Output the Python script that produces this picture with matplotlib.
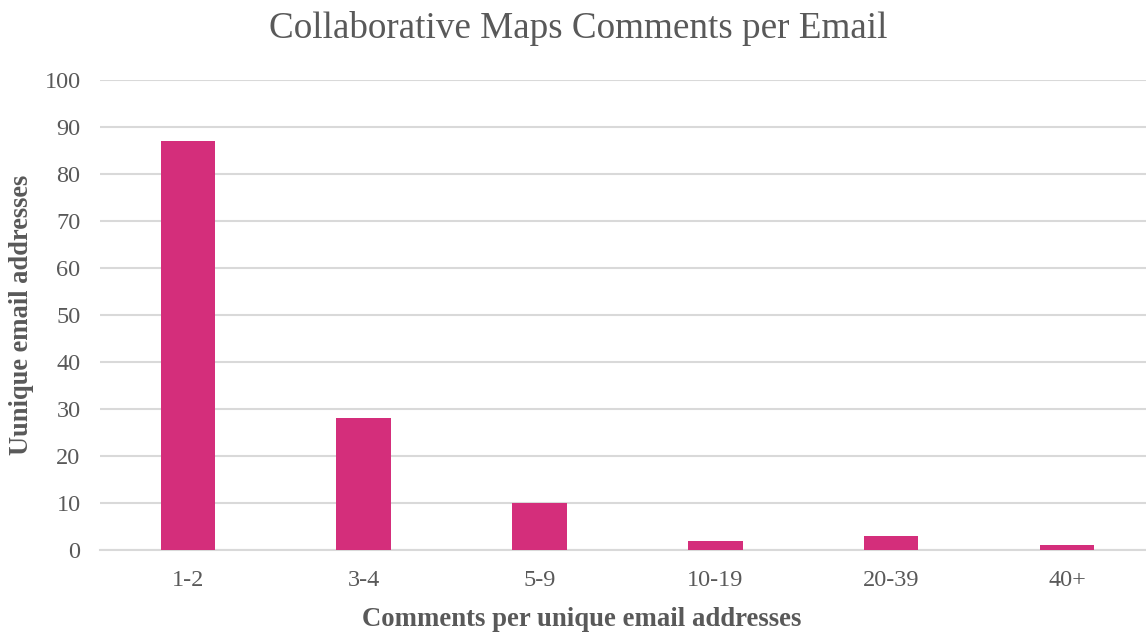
import numpy as np
import matplotlib.pyplot as plt

plt.rcParams['font.family'] = ['Liberation Serif', 'DejaVu Serif']

categories = ['1-2', '3-4', '5-9', '10-19', '20-39', '40+']
emails = [87, 28, 10, 2, 3, 1]

text_col = '#595959'
grid_col = '#D9D9D9'
bar_col = '#D42E7B'

fig = plt.figure(figsize=(11.46, 6.33), dpi=100)
ax = fig.add_axes([0.0873, 0.131, 0.9127, 0.743])

x = np.arange(len(categories))
ax.bar(x, emails, width=0.31, color=bar_col, zorder=3)

ax.set_xlim(-0.5, 5.45)
ax.set_ylim(0, 100)
ax.set_yticks(np.arange(0, 101, 10))
ax.set_xticks(x)
ax.set_xticklabels(categories)
ax.grid(axis='y', color=grid_col, linewidth=1.5, zorder=0)
for s in ['top', 'right', 'left']:
    ax.spines[s].set_visible(False)
ax.spines['bottom'].set_color(grid_col)
ax.spines['bottom'].set_linewidth(1.5)
ax.tick_params(length=0, labelsize=17.5, labelcolor=text_col)
ax.tick_params(axis='x', pad=14)
ax.tick_params(axis='y', pad=14)

fig.text(0.505, 1 - 29 / 633, 'Collaborative Maps Comments per Email', fontsize=26.7,
         color=text_col, ha='center', va='center')
fig.text(0.508, 1 - 620 / 633, 'Comments per unique email addresses', fontsize=19.3,
         fontweight='bold', color=text_col, ha='center', va='center')
fig.text(22 / 1146, 1 - 315 / 633, 'Uunique email addresses', fontsize=19.1,
         fontweight='bold', color=text_col, ha='center', va='center', rotation=90)

fig.savefig('out.png', dpi=100)
